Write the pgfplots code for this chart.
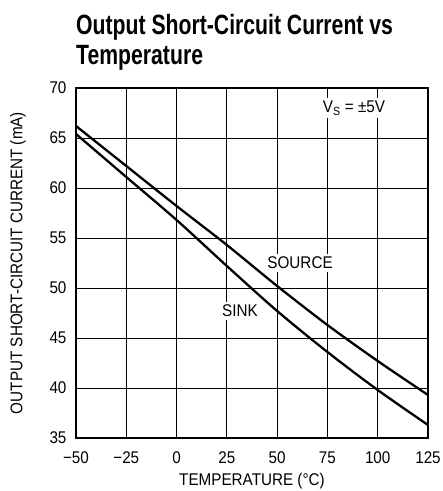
\documentclass[border=0pt]{standalone}
\usepackage{fontspec}
\setmainfont{Liberation Sans}
\newfontfamily\titlefont{Liberation Sans}[FakeStretch=0.76]
\newfontfamily\narrowfont{Liberation Sans}[FakeStretch=0.9]
\usepackage{pgfplots}
\pgfplotsset{compat=1.18}
\begin{document}
\begin{tikzpicture}
\begin{axis}[
  scale only axis,
  width=352bp, height=350bp,
  xmin=-50, xmax=125, ymin=35, ymax=70,
  xtick={-50,-25,0,25,50,75,100,125},
  xticklabels={−50,−25,0,25,50,75,100,125},
  ytick={35,40,45,50,55,60,65,70},
  yticklabels={35,40,45,50,55,60,65,70},
  grid=major,
  major grid style={black, line width=0.8bp},
  major tick length=0,
  axis line style={line width=1.3bp},
  tick label style={font=\narrowfont\fontsize{17}{19}\selectfont},
  xticklabel style={yshift=-10bp},
  yticklabel style={xshift=-6bp},
  xlabel={TEMPERATURE (°C)},
  ylabel={OUTPUT SHORT-CIRCUIT CURRENT (mA)},
  label style={font=\narrowfont\fontsize{17}{19}\selectfont},
  xlabel style={at={(axis description cs:0.5,-0.123)}, anchor=center},
  ylabel style={at={(axis description cs:-0.165,0.5)}, anchor=center},
]
\addplot[black, line width=2.3bp, smooth] coordinates {
  (-50,66.2) (-25,62.2) (0,58.2) (25,54.3) (50,50.2) (75,46.3) (100,42.7) (125,39.3)
};
\addplot[black, line width=2.3bp, smooth] coordinates {
  (-50,65.4) (-25,61.1) (0,56.8) (25,52.2) (50,47.7) (75,43.6) (100,39.8) (125,36.3)
};
\node[fill=white, inner sep=3bp, font=\narrowfont\fontsize{17}{19}\selectfont] at (axis cs:61.4,52.5) {SOURCE};
\node[fill=white, inner sep=3bp, font=\narrowfont\fontsize{17}{19}\selectfont] at (axis cs:31.5,47.7) {SINK};
\node[fill=white, inner sep=3bp, font=\narrowfont\fontsize{17}{19}\selectfont] at (axis cs:88.2,68) {V\textsubscript{S} = ±5V};
\coordinate (sw) at (rel axis cs:0,0);
\coordinate (ne) at (rel axis cs:1,1);
\coordinate (nw) at (rel axis cs:0,1);
\end{axis}
\node[anchor=base west, inner sep=0pt, font=\titlefont\bfseries\fontsize{28}{32}\selectfont] at ([yshift=53bp]nw) {Output Short-Circuit Current vs};
\node[anchor=base west, inner sep=0pt, font=\titlefont\bfseries\fontsize{28}{32}\selectfont] at ([yshift=23bp]nw) {Temperature};
\pgfresetboundingbox
\path ([xshift=-76bp,yshift=-53bp]sw) rectangle ([xshift=15bp,yshift=88bp]ne);
\end{tikzpicture}
\end{document}
